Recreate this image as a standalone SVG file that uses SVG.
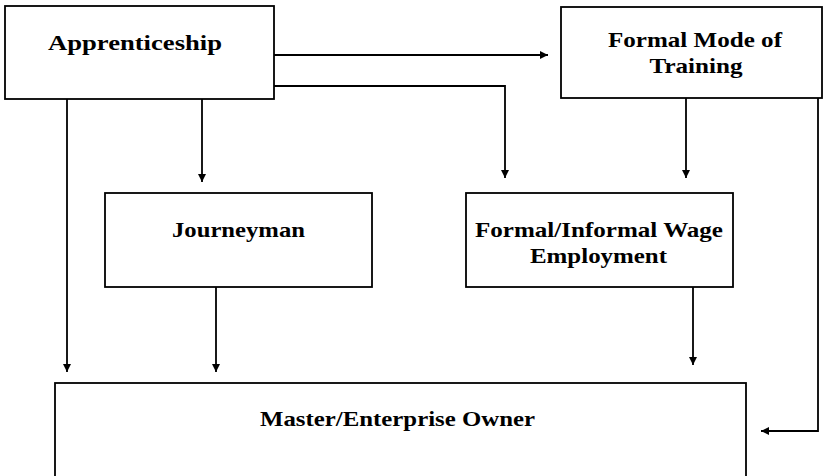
<svg xmlns="http://www.w3.org/2000/svg" width="823" height="476" viewBox="0 0 823 476">
<style>
.box{fill:#fff;stroke:#000;stroke-width:1.8}
.t{font-family:"Liberation Serif","Times New Roman",serif;font-weight:bold;font-size:21px;fill:#000;text-anchor:middle}
.c{fill:none;stroke:#000;stroke-width:1.8}
</style>
<defs>
<marker id="ah" viewBox="0 0 10 10" refX="10" refY="5" markerWidth="8" markerHeight="8" markerUnits="userSpaceOnUse" orient="auto">
<path d="M0,0 L10,5 L0,10 z" fill="#000"/>
</marker>
</defs>
<rect width="823" height="476" fill="#fff"/>
<g id="connectors">
<path class="c" d="M274,55 H548" marker-end="url(#ah)"/>
<path class="c" d="M274,86 H505 V178" marker-end="url(#ah)"/>
<path class="c" d="M202,99 V182" marker-end="url(#ah)"/>
<path class="c" d="M67,99 V372" marker-end="url(#ah)"/>
<path class="c" d="M686,98 V178" marker-end="url(#ah)"/>
<path class="c" d="M818,98 V431 H761" marker-end="url(#ah)"/>
<path class="c" d="M216,287 V372" marker-end="url(#ah)"/>
<path class="c" d="M693,287 V365" marker-end="url(#ah)"/>
</g>
<g id="apprenticeship">
<rect class="box" x="5" y="6" width="269" height="93"/>
<text class="t" x="135" y="50" textLength="174" lengthAdjust="spacingAndGlyphs">Apprenticeship</text>
</g>
<g id="formal-mode">
<rect class="box" x="561" y="7" width="261" height="91"/>
<text class="t" x="695" y="47" textLength="174" lengthAdjust="spacingAndGlyphs">Formal Mode of</text>
<text class="t" x="696" y="73" textLength="93" lengthAdjust="spacingAndGlyphs">Training</text>
</g>
<g id="journeyman">
<rect class="box" x="105" y="193" width="267" height="94"/>
<text class="t" x="238.5" y="237" textLength="133" lengthAdjust="spacingAndGlyphs">Journeyman</text>
</g>
<g id="wage-employment">
<rect class="box" x="466" y="193" width="267" height="94"/>
<text class="t" x="599" y="237" textLength="248" lengthAdjust="spacingAndGlyphs">Formal/Informal Wage</text>
<text class="t" x="598.5" y="263" textLength="137" lengthAdjust="spacingAndGlyphs">Employment</text>
</g>
<g id="master">
<rect class="box" x="55" y="383" width="691" height="100"/>
<text class="t" x="397.5" y="426" textLength="275" lengthAdjust="spacingAndGlyphs">Master/Enterprise Owner</text>
</g>
</svg>
